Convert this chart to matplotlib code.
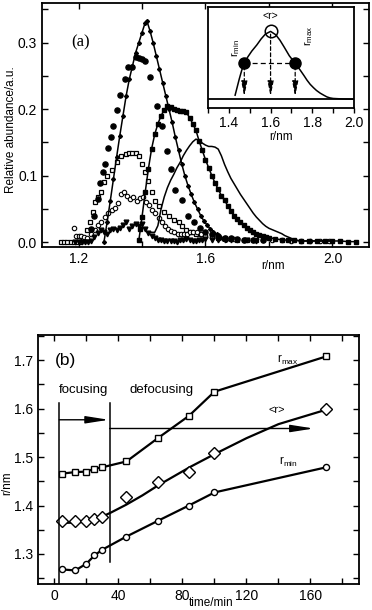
import numpy as np
import matplotlib
matplotlib.use('Agg')
import matplotlib.pyplot as plt
from matplotlib.ticker import FixedLocator, FuncFormatter, MultipleLocator

plt.rcParams['font.family'] = ['Liberation Sans', 'DejaVu Sans']
plt.rcParams['mathtext.fontset'] = 'custom'
plt.rcParams['mathtext.rm'] = 'Liberation Sans'
plt.rcParams['mathtext.it'] = 'Liberation Sans:italic'

# ---- panel (a): size distributions ----
# A: line + small filled diamonds (tall peak)
a_x = [1.280, 1.290, 1.300, 1.310, 1.320, 1.330, 1.340, 1.350, 1.360, 1.370, 1.380, 1.390,
       1.400, 1.410, 1.415, 1.425, 1.435, 1.445, 1.455, 1.465, 1.475, 1.485, 1.495, 1.505,
       1.515, 1.525, 1.535, 1.545, 1.555, 1.565, 1.575, 1.585, 1.595, 1.605, 1.615, 1.625,
       1.635, 1.645, 1.655, 1.665]
a_y = [0.000, 0.030, 0.062, 0.095, 0.128, 0.160, 0.190, 0.220, 0.245, 0.265, 0.285, 0.300,
       0.315, 0.330, 0.333, 0.318, 0.300, 0.280, 0.260, 0.240, 0.220, 0.200, 0.180, 0.158,
       0.138, 0.118, 0.100, 0.085, 0.072, 0.060, 0.050, 0.040, 0.032, 0.026, 0.020, 0.016,
       0.012, 0.008, 0.005, 0.003]

# B: filled circles
b_x = [1.240, 1.250, 1.260, 1.268, 1.278, 1.285, 1.294, 1.302, 1.310, 1.320, 1.331, 1.345,
       1.357, 1.370, 1.380, 1.390, 1.400, 1.410, 1.425, 1.446, 1.462, 1.478, 1.492, 1.504,
       1.525, 1.546, 1.565, 1.583, 1.600, 1.620, 1.640, 1.660, 1.680, 1.700, 1.720, 1.750, 1.780]
b_y = [0.020, 0.040, 0.065, 0.089, 0.105, 0.118, 0.141, 0.158, 0.175, 0.199, 0.221, 0.245,
       0.264, 0.264, 0.279, 0.277, 0.276, 0.272, 0.249, 0.204, 0.174, 0.137, 0.110, 0.079,
       0.064, 0.040, 0.030, 0.021, 0.016, 0.012, 0.009, 0.007, 0.006, 0.005, 0.004, 0.003, 0.003]

# C: open squares
c_x = [1.145, 1.155, 1.165, 1.175, 1.185, 1.195, 1.205, 1.215, 1.226, 1.236, 1.245, 1.252,
       1.262, 1.270, 1.280, 1.290, 1.305, 1.320, 1.335, 1.350, 1.360, 1.370, 1.380, 1.390,
       1.400, 1.410, 1.420, 1.430, 1.440, 1.455, 1.470, 1.485, 1.500, 1.515, 1.525, 1.540,
       1.555, 1.570, 1.585, 1.600, 1.620, 1.640, 1.660, 1.680, 1.700, 1.730, 1.760]
c_y = [0.000, 0.000, 0.000, 0.000, 0.000, 0.000, 0.000, 0.003, 0.018, 0.030, 0.045, 0.060,
       0.068, 0.075, 0.090, 0.100, 0.108, 0.120, 0.130, 0.133, 0.134, 0.134, 0.134, 0.130,
       0.118, 0.105, 0.092, 0.076, 0.062, 0.054, 0.046, 0.040, 0.034, 0.030, 0.025, 0.018,
       0.015, 0.013, 0.012, 0.010, 0.009, 0.007, 0.006, 0.005, 0.004, 0.003, 0.003]

# D: small open circles
d_x = [1.185, 1.192, 1.200, 1.208, 1.218, 1.228, 1.240, 1.252, 1.262, 1.272, 1.283, 1.294,
       1.304, 1.315, 1.325, 1.333, 1.343, 1.353, 1.363, 1.373, 1.383, 1.393, 1.403, 1.413,
       1.422, 1.432, 1.442, 1.452, 1.462, 1.472, 1.482, 1.492, 1.502, 1.512, 1.522, 1.532,
       1.542, 1.552, 1.562, 1.572, 1.585, 1.600, 1.620, 1.640, 1.660, 1.690, 1.720, 1.750,
       1.780, 1.810, 1.840, 1.870, 1.900, 1.930, 1.960, 1.990]
d_y = [0.022, 0.010, 0.010, 0.010, 0.008, 0.006, 0.012, 0.018, 0.026, 0.030, 0.038, 0.044,
       0.048, 0.052, 0.059, 0.072, 0.075, 0.070, 0.065, 0.068, 0.062, 0.066, 0.068, 0.060,
       0.056, 0.049, 0.044, 0.037, 0.030, 0.024, 0.020, 0.017, 0.015, 0.013, 0.012, 0.012,
       0.013, 0.015, 0.016, 0.015, 0.012, 0.010, 0.008, 0.007, 0.006, 0.005, 0.004, 0.004,
       0.003, 0.003, 0.003, 0.002, 0.002, 0.002, 0.002, 0.002]

# E: filled down triangles
e_x = [1.190, 1.200, 1.210, 1.220, 1.230, 1.240, 1.250, 1.260, 1.270, 1.280, 1.290, 1.300,
       1.310, 1.320, 1.330, 1.340, 1.350, 1.360, 1.370, 1.380, 1.390, 1.400, 1.410, 1.420,
       1.430, 1.440, 1.450, 1.460, 1.470, 1.480, 1.490, 1.500, 1.510, 1.520, 1.530, 1.540,
       1.550, 1.560, 1.570, 1.580, 1.590, 1.600, 1.620, 1.640, 1.660, 1.680, 1.700, 1.730, 1.760]
e_y = [0.000, 0.000, 0.000, 0.000, 0.001, 0.002, 0.008, 0.014, 0.018, 0.015, 0.013, 0.018,
       0.020, 0.018, 0.022, 0.026, 0.030, 0.020, 0.024, 0.028, 0.025, 0.028, 0.020, 0.014,
       0.010, 0.006, 0.004, 0.003, 0.002, 0.002, 0.002, 0.002, 0.001, 0.003, 0.004, 0.005,
       0.004, 0.002, 0.002, 0.003, 0.004, 0.005, 0.004, 0.004, 0.004, 0.003, 0.003, 0.003, 0.002]

# F: line + filled squares
f_x = [1.390, 1.395, 1.400, 1.410, 1.420, 1.430, 1.440, 1.450, 1.460, 1.470, 1.480, 1.490,
       1.500, 1.510, 1.520, 1.530, 1.540, 1.550, 1.560, 1.570, 1.580, 1.590, 1.600, 1.610,
       1.620, 1.630, 1.640, 1.650, 1.660, 1.670, 1.680, 1.690, 1.700, 1.710, 1.720, 1.730,
       1.740, 1.750, 1.760, 1.770, 1.780, 1.790, 1.800, 1.820, 1.840, 1.860, 1.880, 1.900,
       1.925, 1.950, 1.975, 2.000, 2.025, 2.050, 2.075]
f_y = [0.003, 0.020, 0.038, 0.075, 0.110, 0.140, 0.162, 0.178, 0.190, 0.199, 0.204, 0.203,
       0.200, 0.199, 0.197, 0.197, 0.195, 0.187, 0.178, 0.168, 0.152, 0.138, 0.124, 0.112,
       0.100, 0.089, 0.080, 0.070, 0.063, 0.055, 0.047, 0.040, 0.035, 0.030, 0.026, 0.022,
       0.019, 0.016, 0.013, 0.011, 0.009, 0.008, 0.007, 0.005, 0.004, 0.003, 0.003, 0.002,
       0.002, 0.002, 0.002, 0.002, 0.002, 0.001, 0.001]

# G: plain line
g_x = [1.425, 1.440, 1.450, 1.460, 1.470, 1.480, 1.490, 1.500, 1.510, 1.520, 1.530, 1.540,
       1.550, 1.560, 1.570, 1.580, 1.590, 1.600, 1.610, 1.620, 1.630, 1.640, 1.650, 1.660,
       1.670, 1.680, 1.690, 1.700, 1.710, 1.720, 1.730, 1.740, 1.750, 1.760, 1.770, 1.780,
       1.790, 1.800, 1.810, 1.820, 1.830, 1.840, 1.850, 1.860, 1.870, 1.880, 1.890, 1.900,
       1.950, 2.000]
g_y = [0.015, 0.015, 0.025, 0.050, 0.068, 0.082, 0.093, 0.102, 0.112, 0.120, 0.130, 0.138,
       0.145, 0.151, 0.155, 0.153, 0.149, 0.146, 0.144, 0.144, 0.143, 0.140, 0.130, 0.117,
       0.106, 0.096, 0.088, 0.080, 0.072, 0.065, 0.058, 0.051, 0.044, 0.038, 0.033, 0.028,
       0.024, 0.021, 0.019, 0.017, 0.015, 0.013, 0.010, 0.008, 0.006, 0.004, 0.003, 0.002,
       0.002, 0.002]

# inset: schematic distribution
ins_x = [1.430, 1.440, 1.450, 1.462, 1.474, 1.490, 1.510, 1.534, 1.555, 1.575, 1.600, 1.625,
         1.645, 1.665, 1.690, 1.718, 1.742, 1.760, 1.775, 1.790, 1.806, 1.820, 1.838, 1.855,
         1.870, 1.885, 1.900, 1.950, 2.000]
ins_y = [0.06, 0.18, 0.30, 0.43, 0.53, 0.62, 0.71, 0.80, 0.89, 0.96, 1.00, 0.95,
         0.87, 0.77, 0.64, 0.53, 0.43, 0.35, 0.28, 0.22, 0.17, 0.13, 0.09, 0.06,
         0.035, 0.02, 0.012, 0.004, 0.0]
ins_r = [1.474, 1.600, 1.718]     # r_min, <r>, r_max
ins_r_y = [0.53, 1.00, 0.53]

# ---- panel (b): radii vs time ----
t = [5, 13, 20, 25, 30, 45, 65, 84, 100, 170]
r_max = [1.466, 1.469, 1.470, 1.476, 1.479, 1.491, 1.540, 1.585, 1.635, 1.708]
r_mean = [1.369, 1.368, 1.369, 1.372, 1.377, 1.417, 1.448, 1.469, 1.508, 1.599]
r_min = [1.268, 1.266, 1.280, 1.297, 1.309, 1.336, 1.369, 1.400, 1.427, 1.479]
t_fit = [5, 15, 25, 35, 45, 55, 65, 75, 85, 100, 120, 140, 170]
r_mean_fit = [1.364, 1.365, 1.370, 1.385, 1.402, 1.421, 1.442, 1.461, 1.480, 1.506, 1.539,
              1.568, 1.598]

W, H = 372, 610
fig = plt.figure(figsize=(W / 100, H / 100), dpi=100)


def box(l, t_, r, b):
    return [l / W, 1 - b / H, (r - l) / W, (b - t_) / H]


# ================= panel (a) =================
ax = fig.add_axes(box(42, 3.3, 369, 246.7))
ax.plot(c_x, c_y, ls='none', marker='s', ms=3.4, mfc='white', mec='black', mew=0.9)
ax.plot(d_x, d_y, ls='none', marker='o', ms=3.2, mfc='white', mec='black', mew=0.8)
ax.plot(e_x, e_y, ls='none', marker='v', ms=3.4, color='black')
ax.plot(b_x, b_y, ls='none', marker='o', ms=3.7, color='black')
ax.plot(g_x, g_y, '-', color='black', lw=1.1)
ax.plot(f_x, f_y, '-', color='black', lw=1.1, marker='s', ms=2.6)
ax.plot(a_x, a_y, '-', color='black', lw=1.1, marker='D', ms=2.0)

ax.set_xlim(1.085, 2.115)
ax.set_ylim(-0.0066, 0.359)
ax.xaxis.set_major_locator(FixedLocator([1.2, 1.4, 1.6, 1.8, 2.0]))
ax.xaxis.set_major_formatter(FuncFormatter(
    lambda v, p: f'{v:.1f}' if round(v * 10) in (12, 16, 20) else ''))
ax.yaxis.set_major_locator(MultipleLocator(0.1))
ax.yaxis.set_minor_locator(MultipleLocator(0.05))
ax.yaxis.set_major_formatter(FuncFormatter(lambda v, p: f'{v:.1f}'))
ax.tick_params(which='both', direction='in', top=True, right=True, width=1.0,
               labelsize=10)
ax.tick_params(which='major', length=4)
ax.tick_params(which='minor', length=4)
for s in ax.spines.values():
    s.set_linewidth(1.3)
ax.set_ylabel('Relative abundance/a.u.', fontsize=8.5)
ax.yaxis.set_label_coords(-0.075, 0.48)
ax.set_xlabel('r/nm', fontsize=8.5)
ax.xaxis.set_label_coords(0.706, -0.055)
ax.text(1.205, 0.300, '(a)', fontsize=12, family=['Liberation Serif', 'DejaVu Serif'],
        ha='center', va='center')

# ---- inset ----
ia = fig.add_axes(box(208, 7.3, 354, 108.3))
ia.set_xlim(1.3, 2.0)
ia.set_ylim(-0.133, 1.355)
ia.axhline(0, color='black', lw=1.3)
ia.plot(ins_x, ins_y, '-', color='black', lw=1.1)
for xr, yr in zip(ins_r, ins_r_y):
    ia.annotate('', xy=(xr, 0.0), xytext=(xr, yr),
                arrowprops=dict(arrowstyle='-|>,head_length=0.9,head_width=0.18',
                                color='black', lw=0.9, ls=(0, (3, 2))))
ia.plot([ins_r[0], ins_r[2]], [ins_r_y[0], ins_r_y[2]], color='black', lw=0.9,
        ls=(0, (4, 2.5)))
ia.plot([ins_r[0], ins_r[2]], [ins_r_y[0], ins_r_y[2]], ls='none', marker='o', ms=8,
        color='black')
ia.plot([ins_r[1]], [ins_r_y[1]], ls='none', marker='o', ms=9, mfc='none', mec='black',
        mew=1.1)
ia.text(1.600, 1.22, '<r>', fontsize=7.5, ha='center', va='center')
ia.text(1.430, 0.76, r'r$_{\rm min}$', fontsize=8, rotation=90, ha='center', va='center')
ia.text(1.782, 0.93, r'r$_{\rm max}$', fontsize=8, rotation=90, ha='center', va='center')
ia.xaxis.set_major_locator(FixedLocator([1.4, 1.6, 1.8, 2.0]))
ia.xaxis.set_minor_locator(FixedLocator([1.3, 1.5, 1.7, 1.9]))
ia.xaxis.set_major_formatter(FuncFormatter(lambda v, p: f'{v:.1f}'))
ia.set_yticks([])
ia.tick_params(which='both', direction='out', length=3.5, width=1.0, labelsize=10,
               pad=2)
for s in ia.spines.values():
    s.set_linewidth(1.3)
ia.set_xlabel('r/nm', fontsize=8.5, labelpad=1)

# ================= panel (b) =================
bx = fig.add_axes(box(37.5, 335, 358.5, 584))
bx.plot(t, r_max, '-', color='black', lw=1.6, marker='s', ms=4.6, mfc='white',
        mec='black', mew=1.0)
bx.plot(t_fit, r_mean_fit, '-', color='black', lw=1.6)
bx.plot(t, r_mean, ls='none', marker='D', ms=6.2, mfc='white', mec='black', mew=1.0)
bx.plot(t, r_min, '-', color='black', lw=1.6, marker='o', ms=4.4, mfc='white',
        mec='black', mew=1.0)

bx.set_xlim(-10.6, 190)
bx.set_ylim(1.238, 1.752)
bx.xaxis.set_major_locator(MultipleLocator(20))
bx.xaxis.set_major_formatter(FuncFormatter(
    lambda v, p: f'{v:.0f}' if round(v) % 40 == 0 else ''))
bx.yaxis.set_major_locator(MultipleLocator(0.1))
bx.yaxis.set_minor_locator(MultipleLocator(0.05))
bx.yaxis.set_major_formatter(FuncFormatter(lambda v, p: f'{v:.1f}'))
bx.tick_params(which='both', direction='in', top=True, right=True, width=1.0,
               length=4, labelsize=10)
for s in bx.spines.values():
    s.set_linewidth(1.3)
bx.set_ylabel('r/nm', fontsize=8.5)
bx.yaxis.set_label_coords(-0.076, 0.405)
bx.set_xlabel('time/min', fontsize=8.5)
bx.xaxis.set_label_coords(0.54, -0.054)

# focusing / defocusing markers
bx.plot([3, 3], [1.238, 1.611], color='black', lw=1.1)
bx.plot([34.5, 34.5], [1.284, 1.611], color='black', lw=1.1)
bx.annotate('', xy=(34, 1.577), xytext=(3, 1.577),
            arrowprops=dict(arrowstyle='-|>,head_length=1.4,head_width=0.22',
                            color='black', lw=1.0, shrinkA=0, shrinkB=0))
bx.annotate('', xy=(162, 1.559), xytext=(34.5, 1.559),
            arrowprops=dict(arrowstyle='-|>,head_length=1.4,head_width=0.22',
                            color='black', lw=1.0, shrinkA=0, shrinkB=0))
bx.text(18, 1.638, 'focusing', fontsize=9.5, ha='center', va='center')
bx.text(67, 1.638, 'defocusing', fontsize=9.5, ha='center', va='center')
bx.text(6.7, 1.70, '(b)', fontsize=12.5, ha='center', va='center')
bx.text(146, 1.70, r'r$_{\rm max}$', fontsize=8.5, ha='center', va='center')
bx.text(139, 1.597, '<r>', fontsize=8, ha='center', va='center')
bx.text(146, 1.49, r'r$_{\rm min}$', fontsize=8.5, ha='center', va='center')

fig.savefig('out.png', dpi=100)
